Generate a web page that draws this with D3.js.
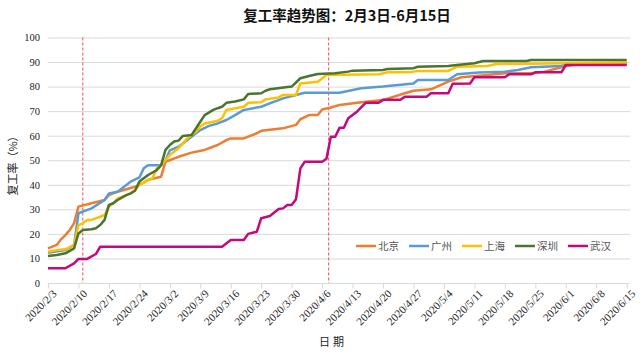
<!DOCTYPE html>
<html><head><meta charset="utf-8">
<script src="https://cdn.jsdelivr.net/npm/d3@7"></script>
<style>body{margin:0;background:#fff;}svg{display:block;}</style>
</head><body><svg id="c" width="641" height="361"></svg>
<script>
const title = "复工率趋势图：2月3日-6月15日";
const startDate = "2020/2/3";
const tickLabels = ["2020/2/3","2020/2/10","2020/2/17","2020/2/24","2020/3/2","2020/3/9","2020/3/16","2020/3/23","2020/3/30","2020/4/6","2020/4/13","2020/4/20","2020/4/27","2020/5/4","2020/5/11","2020/5/18","2020/5/25","2020/6/1","2020/6/8","2020/6/15"];
const yTicks = [0,10,20,30,40,50,60,70,80,90,100];
const seriesNames = ["北京","广州","上海","深圳","武汉"];
const seriesColors = ["#ED7D31","#5B9BD5","#FFC000","#4B7430","#C5087C"];
const markerDays = [8, 64.5]; // dashed reference lines (days after start)
// [day offset from 2020/2/3, rate %]
const beijing = [[0,14.1],[2,15.5],[3,17.8],[4,19.5],[5,21.6],[6,24.4],[7,31.1],[10,32.5],[13,33.8],[14,35.8],[16,37.2],[20,39.2],[22,40.9],[23,42],[26,43.3],[27,49.4],[30,51.4],[33,53.1],[36,54.2],[39,56.2],[41,58.2],[42,58.9],[45,58.9],[48,61],[49,62],[54,63],[57,64.4],[58,66.7],[60,68.4],[62,68.4],[63,70.7],[65,71.5],[67,72.5],[72,73.6],[77,74.5],[82,77.3],[84,78.3],[88,78.9],[92,82],[95,83.8],[101,84.7],[105,85.4],[111,85.4],[114,86],[119,88.4],[124,89.5],[133,89.2]];
const guangzhou = [[0,12.3],[4,13.4],[6,15.5],[7,28.4],[10,30.4],[13,33.8],[14,36.5],[16,37.2],[18,39.9],[19,41.3],[21,43],[22,46.7],[23,48],[26,48],[27,50],[28,54],[30,55.5],[33,59.6],[35,62.3],[37,64],[39,65],[41,66.4],[43,68.4],[45,70.5],[49,71.8],[51,73.2],[53,74.5],[54,75.2],[57,76.6],[59,77.5],[67,77.5],[72,79.3],[77,80],[84,81.3],[85,82.7],[92,82.7],[94,85],[99,85.7],[105,86.1],[108,86.8],[111,87.9],[118,88.4],[119,89.2],[133,89.5]];
const shanghai = [[0,12.7],[2,13.4],[4,13.7],[6,15.5],[7,23.6],[8,24.3],[9,25.7],[10,25.7],[12,27],[13,27.7],[14,31.1],[15,32.5],[16,34.5],[18,35.8],[19,36.5],[20,37.9],[21,39.9],[23,42],[24,42.6],[25,46.7],[26,48],[27,50.1],[28,52.1],[30,54.9],[31,56.9],[32,58.9],[34,61.6],[35,63.7],[36,65],[38,65.7],[39,66.1],[40,67.1],[41,70.5],[44,71.5],[45,71.8],[46,73.4],[49,73.6],[50,74.8],[53,75.6],[54,76.6],[57,76.6],[58,81.3],[62,82],[64,84.7],[76,85],[78,85.8],[83,85.8],[85,86.4],[92,86.4],[94,88.1],[101,88.4],[103,89.2],[119,89.5],[133,89.8]];
const shenzhen = [[0,11],[2,11.4],[4,12.1],[6,14.1],[7,20.2],[8,21.6],[10,21.9],[11,22.3],[12,23.6],[13,25.7],[14,31.8],[15,32.5],[16,33.8],[18,35.8],[19,36.5],[20,37.6],[21,41.3],[23,44],[25,46],[26,48],[27,54.2],[28,56.2],[29,57.6],[30,58],[31,59.9],[33,60.3],[35,65.7],[36,68.4],[38,70.5],[39,71.2],[40,71.8],[41,73.4],[43,73.9],[45,74.8],[46,77],[49,77.3],[50,78.3],[51,78.9],[56,80],[58,83.4],[60,84.3],[62,85.1],[66,85.4],[69,86.1],[70,86.5],[77,86.8],[78,87.2],[84,87.5],[85,88.1],[92,88.4],[94,88.8],[98,89.5],[100,90.4],[110,90.4],[111,90.8],[133,90.8]];
const wuhan = [[0,6],[4,6],[6,8],[7,9.8],[9,9.8],[11,11.8],[12,14.8],[40,14.8],[42,17.5],[45,17.5],[46,20],[48,20.9],[49,26.4],[51,27.3],[53,30.1],[54,30.4],[55,31.8],[56,31.8],[57,34.1],[58,46.7],[59,49.4],[63,49.4],[64,50.6],[65,59.6],[66,59.6],[67,63.2],[68,63.2],[69,67.1],[71,69.8],[73,73.4],[76,73.4],[77,74.6],[81,74.6],[82,75.9],[87,75.9],[88,77.3],[92,77.3],[93,81.2],[97,81.3],[98,83.8],[105,83.8],[106,85],[111,85],[112,85.8],[118,85.8],[119,88.8],[133,88.8]];
const seriesData = [beijing, guangzhou, shanghai, shenzhen, wuhan];

const svg = d3.select("#c");
const parse = d3.timeParse("%Y/%m/%d");
const t0 = parse(startDate);
const dayToDate = d => new Date(t0.getTime() + d * 86400000);
const tickDates = tickLabels.map(parse);
const x = d3.scaleTime().domain([t0, tickDates[tickDates.length - 1]]).range([48, 626.7]);
const y = d3.scaleLinear().domain([0, 100]).range([283, 37.5]);
const cjk = "'Noto Sans CJK SC', sans-serif";
const serif = "'Liberation Serif', 'Times New Roman', serif";

// gridlines
svg.append("g").selectAll("line").data(yTicks).join("line")
  .attr("x1", 48).attr("x2", 630)
  .attr("y1", d => y(d) + 0.5).attr("y2", d => y(d) + 0.5)
  .attr("stroke", "#d9d9d9").attr("stroke-width", 1);

// y axis labels
const yAxis = d3.axisLeft(y).tickValues(yTicks).tickSize(0).tickPadding(0);
const gy = svg.append("g").attr("transform", "translate(40,0)").call(yAxis);
gy.select(".domain").remove();
gy.selectAll("text").attr("font-family", serif).attr("font-size", 10.5).attr("fill", "#222");

// x axis
const xAxis = d3.axisBottom(x).tickValues(tickDates).tickSize(5).tickFormat((d, i) => tickLabels[i]);
const gx = svg.append("g").attr("transform", "translate(0,283.5)").call(xAxis);
gx.select(".domain").attr("stroke", "#d9d9d9").attr("d", "M48,0H630");
gx.selectAll(".tick line").attr("stroke", "#d9d9d9");
gx.selectAll("text").attr("font-family", serif).attr("font-size", 11).attr("fill", "#222")
  .attr("text-anchor", "end").attr("transform", "translate(3,5) rotate(-45)").attr("dy", "0.75em").attr("y", 0).attr("dx", 0);

// dashed marker lines
svg.append("g").selectAll("line").data(markerDays).join("line")
  .attr("x1", d => x(dayToDate(d))).attr("x2", d => x(dayToDate(d)))
  .attr("y1", y(100)).attr("y2", y(0))
  .attr("stroke", "#F25050").attr("stroke-width", 1).attr("stroke-dasharray", "3,2");

// series
const line = d3.line().x(d => x(dayToDate(d[0]))).y(d => y(d[1]));
svg.append("g").selectAll("path").data(seriesData).join("path")
  .attr("d", line).attr("fill", "none")
  .attr("stroke", (d, i) => seriesColors[i]).attr("stroke-width", 2.5)
  .attr("stroke-linejoin", "round").attr("stroke-linecap", "butt");

// legend
const lg = svg.append("g").selectAll("g").data(seriesNames).join("g")
  .attr("transform", (d, i) => `translate(${356 + i * 53},246)`);
lg.append("line").attr("x1", 0).attr("x2", 20).attr("y1", 0).attr("y2", 0)
  .attr("stroke", (d, i) => seriesColors[i]).attr("stroke-width", 2.5);
lg.append("text").attr("x", 22).attr("y", 0).attr("dy", "0.35em").text(d => d)
  .attr("font-family", cjk).attr("font-size", 10.5).attr("fill", "#555");

// titles
svg.append("text").attr("x", 347).attr("y", 21).attr("text-anchor", "middle")
  .attr("font-family", cjk).attr("font-weight", "bold").attr("font-size", 14.5).attr("fill", "#111").text(title);
svg.append("text").attr("transform", "translate(17,163) rotate(-90)").attr("text-anchor", "middle")
  .attr("font-family", cjk).attr("font-size", 11).attr("fill", "#222").text("复工率（%）");
svg.append("text").attr("x", 333).attr("y", 346).attr("text-anchor", "middle")
  .attr("font-family", cjk).attr("font-size", 11).attr("fill", "#222").attr("letter-spacing", 3).text("日期");
</script></body></html>
